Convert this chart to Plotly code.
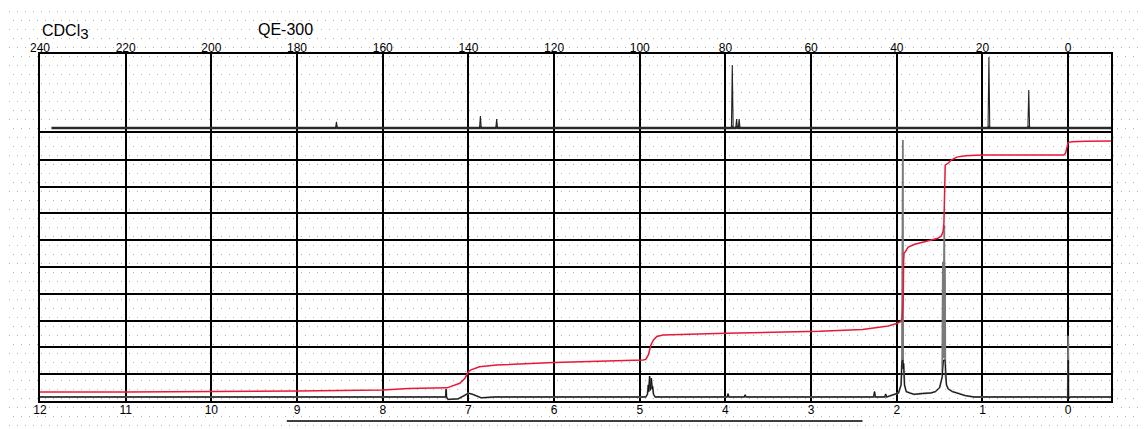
import base64
import numpy as np
import plotly.graph_objects as go

# ---------------- data ----------------
# 13C spectrum (top panel): chemical shift (ppm) and displayed intensity (panel units 0-10)
c13_ppm = [237.3, 171.0, 170.8, 170.6, 137.4, 137.2, 137.0, 133.6, 133.4, 133.2,
           78.6, 78.4, 78.2, 77.6, 77.4, 77.2, 77.0, 76.8, 76.6,
           18.7, 18.5, 18.3, 9.4, 9.2, 9.0, -10.0]
c13_int = [0.63, 0.63, 1.43, 0.63, 0.63, 2.15, 0.63, 0.63, 1.77, 0.63,
           0.63, 8.61, 0.63, 0.63, 1.77, 0.63, 0.63, 1.77, 0.63,
           0.63, 9.62, 0.63, 0.63, 5.44, 0.63, 0.63]

# 1H spectrum (bottom panel)
h1_ppm = [12.0, 7.30, 7.265, 7.26, 7.255, 7.24, 7.12, 7.05, 7.00, 6.95, 6.85, 6.70,
          4.93, 4.91, 4.90, 4.895, 4.885, 4.875, 4.865, 4.855, 4.85, 4.84, 4.82,
          3.98, 3.97, 3.96, 3.78, 3.77, 3.76, 2.27, 2.26, 2.25, 2.14, 2.13, 2.12,
          1.98, 1.95, 1.94, 1.935, 1.932, 1.929, 1.926, 1.92, 1.91, 1.89, 1.85, 1.80,
          1.70, 1.60, 1.55, 1.50, 1.47,
          1.462, 1.458, 1.454, 1.45, 1.446, 1.442, 1.438, 1.434, 1.43, 1.42, 1.40,
          1.35, 1.30, 1.20, 1.10,
          0.02, 0.005, 0.0, -0.005, -0.02, -0.5]
h1_int = [0.15, 0.15, 0.15, 0.44, 0.15, 0.06, 0.08, 0.20, 0.29, 0.25, 0.12, 0.15,
          0.15, 0.25, 0.60, 0.35, 0.93, 0.40, 0.85, 0.45, 0.55, 0.25, 0.15,
          0.15, 0.27, 0.15, 0.15, 0.23, 0.15, 0.15, 0.35, 0.15, 0.15, 0.26, 0.15,
          0.30, 0.60, 1.50, 9.50, 2.00, 9.74, 1.20, 1.40, 0.60, 0.35, 0.30, 0.25,
          0.28, 0.30, 0.35, 0.50, 0.90,
          5.20, 1.60, 6.40, 1.80, 6.57, 1.60, 5.00, 1.40, 0.90, 0.60, 0.45,
          0.35, 0.30, 0.20, 0.15,
          0.15, 0.10, 2.43, 0.08, 0.15, 0.15]

# integration curve
integ_ppm = [12.0, 11.0, 9.0, 8.0, 7.7, 7.45, 7.25, 7.10, 7.04, 7.00, 6.97, 6.87, 6.67,
             6.0, 5.2, 4.96, 4.93, 4.90, 4.87, 4.84, 4.80, 4.73, 4.0, 3.4, 2.9, 2.4,
             2.2, 2.1, 2.0, 1.96, 1.94, 1.925, 1.92, 1.915, 1.90, 1.87, 1.80, 1.70,
             1.60, 1.52, 1.48, 1.46, 1.45, 1.445, 1.44, 1.435, 1.40, 1.36, 1.30, 1.20,
             1.0, 0.5, 0.05, 0.03, 0.01, 0.0, -0.05, -0.2, -0.5]
integ_val = [0.34, 0.34, 0.37, 0.41, 0.47, 0.47, 0.49, 0.66, 0.85, 1.09, 1.16, 1.28, 1.34,
             1.44, 1.50, 1.53, 1.55, 1.72, 2.09, 2.28, 2.41, 2.46, 2.53, 2.57, 2.60, 2.67,
             2.74, 2.80, 2.89, 2.95, 3.06, 3.77, 5.26, 5.52, 5.57, 5.73, 5.84, 5.92,
             5.99, 6.07, 6.16, 6.32, 6.63, 7.50, 8.62, 8.80, 8.88, 9.00, 9.10, 9.15,
             9.18, 9.18, 9.18, 9.25, 9.59, 9.65, 9.67, 9.69, 9.70]

h1_ticks = list(range(12, -1, -1))
c13_ticks = list(range(240, -1, -20))

# ---------------- figure ----------------
FONT = "Liberation Sans, Arial, sans-serif"
W, H = 1140, 422          # page body adds an 8 px offset
ML, MR, MT, MB = 32, 37, 46, 29
PW, PH = W - ML - MR, H - MT - MB
split = 268 / PH  # bottom panel share

fig = go.Figure()

c13_arr = np.array(c13_int)
# thick noisy-looking baseline band + thin peaks
fig.add_trace(go.Scatter(x=c13_ppm, y=np.minimum(c13_arr, 0.75), mode="lines",
                         xaxis="x2", yaxis="y2",
                         line=dict(color="#333333", width=2.4), hoverinfo="skip"))
fig.add_trace(go.Scatter(x=c13_ppm, y=c13_int, mode="lines", xaxis="x2", yaxis="y2",
                         line=dict(color="#222222", width=1.1), hoverinfo="skip"))

h1_arr = np.array(h1_int)
fig.add_trace(go.Scatter(x=h1_ppm, y=h1_int, mode="lines",
                         line=dict(color="#7a7a7a", width=1.8), hoverinfo="skip"))
fig.add_trace(go.Scatter(x=h1_ppm, y=np.minimum(h1_arr, 1.53), mode="lines",
                         line=dict(color="#111111", width=1.0), hoverinfo="skip"))
fig.add_trace(go.Scatter(x=integ_ppm, y=integ_val, mode="lines",
                         line=dict(color="rgb(232,24,56)", width=1.5), hoverinfo="skip"))

# dotted background
svg = (f'<svg xmlns="http://www.w3.org/2000/svg" width="{W}" height="{H}">'
       '<defs><pattern id="p" width="8" height="18" patternUnits="userSpaceOnUse">'
       '<rect x="1" y="3" width="1" height="1" fill="#b4b4b4"/>'
       '<rect x="5" y="12" width="1" height="1" fill="#b4b4b4"/>'
       '</pattern></defs>'
       f'<rect width="{W}" height="{H}" fill="#ffffff"/>'
       f'<rect width="{W}" height="{H}" fill="url(#p)"/></svg>')
src = "data:image/svg+xml;base64," + base64.b64encode(svg.encode()).decode()
fig.add_layout_image(dict(source=src, xref="paper", yref="paper",
                          x=-ML / PW, y=1 + MT / PH, sizex=W / PW, sizey=H / PH,
                          xanchor="left", yanchor="top", sizing="stretch", layer="below"))

axis_common = dict(showline=True, linecolor="black", linewidth=1.6,
                   zeroline=False, ticks="", ticklen=0, gridcolor="black", gridwidth=1.6,
                   tickfont=dict(family=FONT, size=12, color="black"))

fig.update_layout(
    width=W, height=H, autosize=False,
    margin=dict(l=ML, r=MR, t=MT, b=MB, pad=0),
    paper_bgcolor="white", plot_bgcolor="rgba(0,0,0,0)",
    showlegend=False,
    xaxis=dict(range=[12, -0.5], tickvals=h1_ticks, ticktext=[str(t) for t in h1_ticks],
               showgrid=True, anchor="y", domain=[0, 1], mirror=True,
               ticklabelstandoff=-3, **axis_common),
    yaxis=dict(range=[0, 10], dtick=1, tick0=0, showgrid=True, showticklabels=False,
               anchor="x", domain=[0, split], mirror=True, **axis_common),
    xaxis2=dict(range=[240, -10], tickvals=c13_ticks, ticktext=[str(t) for t in c13_ticks],
                showgrid=True, side="top", anchor="y2", domain=[0, 1], mirror=False,
                ticklabelstandoff=-5, **axis_common),
    yaxis2=dict(range=[0, 10], showgrid=False, showticklabels=False,
                anchor="x2", domain=[split, 1], mirror=True, **axis_common),
    annotations=[
        dict(text="CDCl<sub><span style='font-size:15px'>3</span></sub>",
             xref="paper", yref="paper", x=0, y=1 + 22 / PH,
             xanchor="left", yanchor="middle", showarrow=False,
             font=dict(family=FONT, size=16, color="black")),
        dict(text="QE-300", xref="paper", yref="paper", x=(256 - 40) / PW, y=1 + 24 / PH,
             xanchor="left", yanchor="middle", showarrow=False,
             font=dict(family=FONT, size=16, color="black")),
    ],
    shapes=[dict(type="line", xref="x", yref="paper", x0=9.12, x1=2.40,
                 y0=-20 / PH, y1=-20 / PH, line=dict(color="black", width=1.5))],
)

fig.write_html("out.html")
